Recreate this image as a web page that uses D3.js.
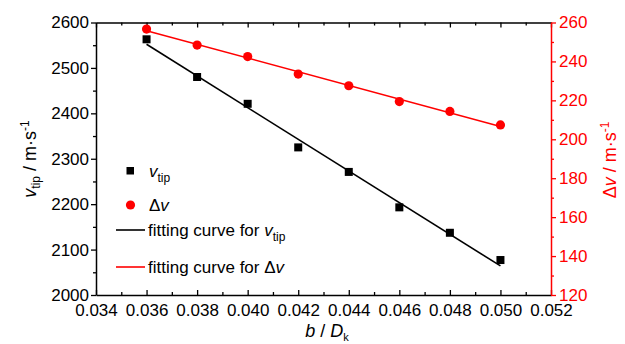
<!DOCTYPE html>
<html><head><meta charset="utf-8">
<script src="https://cdn.jsdelivr.net/npm/d3@7"></script>
<style>
body{margin:0;background:#fff;}
text{font-family:"Liberation Sans",Arial,sans-serif;}
</style></head><body>
<svg id="c" width="625" height="344"></svg>
<script>
const xVals = [0.036,0.038,0.040,0.042,0.044,0.046,0.048,0.050];
const vtip = [2563,2480,2421,2325,2271,2193,2137,2077];
const dv = [256.6,248.4,242.5,233.5,227.5,219.4,214.3,207.4];
const fitX = [0.036,0.050];
const fitVtip = [2552,2064];
const fitDv = [255.8,206.6];
const xTicks = [0.034,0.036,0.038,0.040,0.042,0.044,0.046,0.048,0.050,0.052];
const yLeftTicks = [2000,2100,2200,2300,2400,2500,2600];
const yRightTicks = [120,140,160,180,200,220,240,260];

const svg = d3.select("#c");
const L=96,R=551,T=22.5,B=295;
const x = d3.scaleLinear().domain([0.034,0.052]).range([L,R]);
const yl = d3.scaleLinear().domain([2000,2600]).range([B,T]);
const yr = d3.scaleLinear().domain([120,260]).range([B,T]);
const FS = 17;

const xMinor = d3.range(0,9).map(i=>0.035+0.002*i);
const ylMinor = d3.range(0,6).map(i=>2050+100*i);
const yrMinor = d3.range(0,7).map(i=>130+20*i);

function style(g,color){
  g.select(".domain").attr("stroke",color).attr("stroke-width",1.5);
  g.selectAll(".tick line").attr("stroke",color).attr("stroke-width",1.3);
  g.selectAll(".tick text").attr("fill",color).style("font-size",FS+"px").attr("font-family","Liberation Sans, Arial, sans-serif");
}

// bottom axis
let gb = svg.append("g").attr("transform",`translate(0,${B})`)
  .call(d3.axisBottom(x).tickValues(xTicks).tickFormat(d3.format(".3f")).tickSize(-5).tickSizeOuter(0).tickPadding(9));
style(gb,"#000");
let gbm = svg.append("g").attr("transform",`translate(0,${B})`)
  .call(d3.axisBottom(x).tickValues(xMinor).tickFormat("").tickSize(-3).tickSizeOuter(0));
style(gbm,"#000"); gbm.select(".domain").remove();

// top axis
let gt = svg.append("g").attr("transform",`translate(0,${T})`)
  .call(d3.axisTop(x).tickValues(xTicks).tickFormat("").tickSize(-5).tickSizeOuter(0));
style(gt,"#000");
let gtm = svg.append("g").attr("transform",`translate(0,${T})`)
  .call(d3.axisTop(x).tickValues(xMinor).tickFormat("").tickSize(-3).tickSizeOuter(0));
style(gtm,"#000"); gtm.select(".domain").remove();

// left axis
let gl = svg.append("g").attr("transform",`translate(${L},0)`)
  .call(d3.axisLeft(yl).tickValues(yLeftTicks).tickFormat(d3.format("d")).tickSize(5).tickSizeOuter(0).tickPadding(2));
style(gl,"#000");
let glm = svg.append("g").attr("transform",`translate(${L},0)`)
  .call(d3.axisLeft(yl).tickValues(ylMinor).tickFormat("").tickSize(3).tickSizeOuter(0));
style(glm,"#000"); glm.select(".domain").remove();

// right axis
let gr = svg.append("g").attr("transform",`translate(${R},0)`)
  .call(d3.axisRight(yr).tickValues(yRightTicks).tickFormat(d3.format("d")).tickSize(5).tickSizeOuter(0).tickPadding(3));
style(gr,"#f00");
let grm = svg.append("g").attr("transform",`translate(${R},0)`)
  .call(d3.axisRight(yr).tickValues(yrMinor).tickFormat("").tickSize(3).tickSizeOuter(0));
style(grm,"#f00"); grm.select(".domain").remove();

// fit lines
const lineL = d3.line().x((d,i)=>x(fitX[i])).y(d=>yl(d));
const lineR = d3.line().x((d,i)=>x(fitX[i])).y(d=>yr(d));
svg.append("path").attr("d",lineL(fitVtip)).attr("stroke","#000").attr("stroke-width",1.6).attr("fill","none");
svg.append("path").attr("d",lineR(fitDv)).attr("stroke","#f00").attr("stroke-width",1.6).attr("fill","none");

// markers
svg.selectAll("rect.pt").data(vtip).enter().append("rect").attr("class","pt")
  .attr("x",(d,i)=>x(xVals[i])-4).attr("y",d=>yl(d)-4).attr("width",8).attr("height",8).attr("fill","#000");
svg.selectAll("circle.pt").data(dv).enter().append("circle").attr("class","pt")
  .attr("cx",(d,i)=>x(xVals[i])).attr("cy",d=>yr(d)).attr("r",4.6).attr("fill","#f00");

// axis titles
const lt = svg.append("text").attr("transform",`translate(36,159) rotate(-90)`).attr("text-anchor","middle").style("font-size","18px").attr("fill","#000");
lt.append("tspan").attr("font-style","italic").text("v");
lt.append("tspan").attr("dy",4).style("font-size","12px").text("tip");
lt.append("tspan").attr("dy",-4).text(" / m·s");
lt.append("tspan").attr("dy",-7).style("font-size","12px").text("-1");

const rt = svg.append("text").attr("transform",`translate(615.5,160) rotate(-90)`).attr("text-anchor","middle").style("font-size","18px").attr("fill","#f00");
rt.append("tspan").text("Δ");
rt.append("tspan").attr("font-style","italic").text("v");
rt.append("tspan").text(" / m·s");
rt.append("tspan").attr("dy",-7).style("font-size","12px").text("-1");

const bt = svg.append("text").attr("x",327).attr("y",337).attr("text-anchor","middle").style("font-size","18px").attr("fill","#000");
bt.append("tspan").attr("font-style","italic").text("b");
bt.append("tspan").text(" / ");
bt.append("tspan").attr("font-style","italic").text("D");
bt.append("tspan").attr("dy",4).style("font-size","11px").text("k");

// legend
const lg = svg.append("g");
lg.append("rect").attr("x",126.5).attr("y",167).attr("width",7.5).attr("height",7.5).attr("fill","#000");
let t1 = lg.append("text").attr("x",149).attr("y",177).style("font-size",FS+"px");
t1.append("tspan").attr("font-style","italic").text("v");
t1.append("tspan").attr("dy",5).style("font-size","12px").text("tip");
lg.append("circle").attr("cx",130.5).attr("cy",205).attr("r",4.6).attr("fill","#f00");
let t2 = lg.append("text").attr("x",149).attr("y",211).style("font-size",FS+"px");
t2.append("tspan").text("Δ");
t2.append("tspan").attr("font-style","italic").text("v");
lg.append("line").attr("x1",116).attr("x2",145).attr("y1",230).attr("y2",230).attr("stroke","#000").attr("stroke-width",1.6);
let t3 = lg.append("text").attr("x",148).attr("y",236).style("font-size",FS+"px");
t3.append("tspan").text("fitting curve for ");
t3.append("tspan").attr("font-style","italic").text("v");
t3.append("tspan").attr("dy",5).style("font-size","12px").text("tip");
lg.append("line").attr("x1",116).attr("x2",145).attr("y1",267).attr("y2",267).attr("stroke","#f00").attr("stroke-width",1.6);
let t4 = lg.append("text").attr("x",148).attr("y",273).style("font-size",FS+"px");
t4.append("tspan").text("fitting curve for Δ");
t4.append("tspan").attr("font-style","italic").text("v");
</script></body></html>
